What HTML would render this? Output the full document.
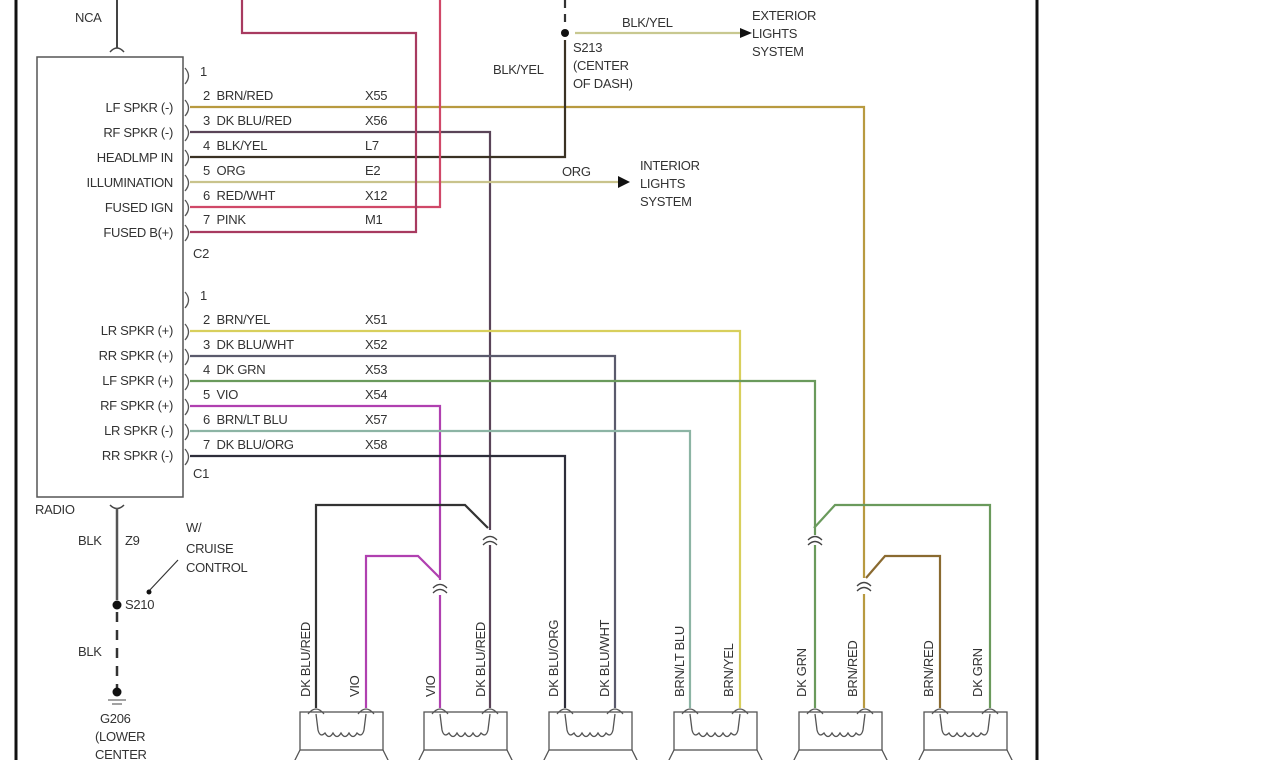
<!DOCTYPE html>
<html><head><meta charset="utf-8"><style>
html,body{margin:0;padding:0;background:#fff;}
svg{display:block;}
text{font-family:"Liberation Sans",sans-serif;font-size:13px;fill:#333;letter-spacing:-0.3px;}
</style></head><body>
<svg width="1278" height="760" viewBox="0 0 1278 760" xmlns="http://www.w3.org/2000/svg">
<rect width="1278" height="760" fill="#fff"/>
<line x1="16" y1="0" x2="16" y2="760" stroke="#111" stroke-width="3"/>
<line x1="1037" y1="0" x2="1037" y2="760" stroke="#111" stroke-width="3"/>
<rect x="37" y="57" width="146" height="440" fill="none" stroke="#555" stroke-width="1.5"/>
<line x1="117" y1="0" x2="117" y2="48" stroke="#444" stroke-width="2"/>
<path d="M110 52 Q117 44 124 52" fill="none" stroke="#444" stroke-width="1.5"/>
<text x="75" y="22">NCA</text>
<g fill="none" stroke="#555" stroke-width="1.3">
<path d="M185 68 Q192 76 185 84"/><path d="M185 100 Q192 108 185 116"/><path d="M185 125 Q192 133 185 141"/><path d="M185 150 Q192 158 185 166"/><path d="M185 175 Q192 183 185 191"/><path d="M185 200 Q192 208 185 216"/><path d="M185 225 Q192 233 185 241"/>
<path d="M185 292 Q192 300 185 308"/><path d="M185 324 Q192 332 185 340"/><path d="M185 349 Q192 357 185 365"/><path d="M185 374 Q192 382 185 390"/><path d="M185 399 Q192 407 185 415"/><path d="M185 424 Q192 432 185 440"/><path d="M185 449 Q192 457 185 465"/>
</g>
<g fill="none" stroke-width="2.2">
<polyline points="190,107 864,107 864,578" stroke="#b89a40"/>
<polyline points="190,132 490,132 490,530" stroke="#5a4458"/>
<polyline points="190,157 565,157 565,40" stroke="#3a3224"/>
<line x1="565" y1="0" x2="565" y2="22" stroke="#333" stroke-dasharray="8,6"/>
<polyline points="190,182 622,182" stroke="#c9c38c"/>
<polyline points="190,207 440,207 440,0" stroke="#d04868"/>
<polyline points="190,232 416,232 416,33 242,33 242,0" stroke="#a83a60"/>
<line x1="575" y1="33" x2="740" y2="33" stroke="#c8c890"/>
<polyline points="190,331 740,331 740,708" stroke="#d8cf5c"/>
<polyline points="190,356 615,356 615,708" stroke="#5a5a6c"/>
<polyline points="190,381 815,381 815,535" stroke="#6a9a5c"/>
<polyline points="190,406 440,406 440,580" stroke="#b040b0"/>
<polyline points="190,431 690,431 690,708" stroke="#8cb4a4"/>
<polyline points="190,456 565,456 565,708" stroke="#2e2e3a"/>
<polyline points="316,708 316,505 465,505 488,528" stroke="#333"/>
<polyline points="490,545 490,708" stroke="#5a4458"/>
<polyline points="366,708 366,556 418,556 440,578" stroke="#b040b0"/>
<polyline points="440,595 440,708" stroke="#b040b0"/>
<polyline points="990,708 990,505 835,505 814,528" stroke="#6a9a5c"/>
<polyline points="815,545 815,708" stroke="#6a9a5c"/>
<polyline points="940,708 940,556 885,556 866,578" stroke="#8a6a30"/>
<polyline points="864,594 864,708" stroke="#b89a40"/>
</g>
<g fill="none" stroke="#444" stroke-width="1.3">
<path d="M483 540 Q490 533 497 540"/><path d="M483 545 Q490 538 497 545"/>
<path d="M433 588 Q440 581 447 588"/><path d="M433 593 Q440 586 447 593"/>
<path d="M808 540 Q815 533 822 540"/><path d="M808 545 Q815 538 822 545"/>
<path d="M857 586 Q864 579 871 586"/><path d="M857 591 Q864 584 871 591"/>
</g>
<polygon points="740,28 752,33 740,38" fill="#111"/>
<polygon points="618,176 630,182 618,188" fill="#111"/>
<circle cx="565" cy="33" r="4" fill="#111"/>
<text x="200" y="76">1</text>
<text x="203" y="100">2&#160; BRN/RED</text><text x="365" y="100">X55</text>
<text x="203" y="125">3&#160; DK BLU/RED</text><text x="365" y="125">X56</text>
<text x="203" y="150">4&#160; BLK/YEL</text><text x="365" y="150">L7</text>
<text x="203" y="175">5&#160; ORG</text><text x="365" y="175">E2</text>
<text x="203" y="200">6&#160; RED/WHT</text><text x="365" y="200">X12</text>
<text x="203" y="224">7&#160; PINK</text><text x="365" y="224">M1</text>
<text x="193" y="258">C2</text>
<g text-anchor="end">
<text x="173" y="112">LF SPKR (-)</text><text x="173" y="137">RF SPKR (-)</text><text x="173" y="162">HEADLMP IN</text><text x="173" y="187">ILLUMINATION</text><text x="173" y="212">FUSED IGN</text><text x="173" y="237">FUSED B(+)</text>
<text x="173" y="335">LR SPKR (+)</text><text x="173" y="360">RR SPKR (+)</text><text x="173" y="385">LF SPKR (+)</text><text x="173" y="410">RF SPKR (+)</text><text x="173" y="435">LR SPKR (-)</text><text x="173" y="460">RR SPKR (-)</text>
</g>
<text x="200" y="300">1</text>
<text x="203" y="324">2&#160; BRN/YEL</text><text x="365" y="324">X51</text>
<text x="203" y="349">3&#160; DK BLU/WHT</text><text x="365" y="349">X52</text>
<text x="203" y="374">4&#160; DK GRN</text><text x="365" y="374">X53</text>
<text x="203" y="399">5&#160; VIO</text><text x="365" y="399">X54</text>
<text x="203" y="424">6&#160; BRN/LT BLU</text><text x="365" y="424">X57</text>
<text x="203" y="449">7&#160; DK BLU/ORG</text><text x="365" y="449">X58</text>
<text x="193" y="478">C1</text>
<text x="622" y="27">BLK/YEL</text>
<text x="752" y="20">EXTERIOR</text><text x="752" y="38">LIGHTS</text><text x="752" y="56">SYSTEM</text>
<text x="573" y="52">S213</text><text x="573" y="70">(CENTER</text><text x="573" y="88">OF DASH)</text>
<text x="493" y="74">BLK/YEL</text>
<text x="562" y="176">ORG</text>
<text x="640" y="170">INTERIOR</text><text x="640" y="188">LIGHTS</text><text x="640" y="206">SYSTEM</text>
<path d="M110 505 Q117 512 124 505" fill="none" stroke="#444" stroke-width="1.5"/>
<line x1="117" y1="508" x2="117" y2="600" stroke="#555" stroke-width="2.5"/>
<line x1="117" y1="612" x2="117" y2="690" stroke="#333" stroke-width="2.5" stroke-dasharray="10,8"/>
<circle cx="117" cy="605" r="4.5" fill="#111"/>
<circle cx="117" cy="692" r="4.5" fill="#111"/>
<line x1="108" y1="700" x2="126" y2="700" stroke="#444"/><line x1="112" y1="704" x2="122" y2="704" stroke="#444"/>
<line x1="148" y1="592" x2="178" y2="560" stroke="#333" stroke-width="1.2"/>
<circle cx="149" cy="592" r="2.5" fill="#111"/>
<text x="35" y="514">RADIO</text>
<text x="78" y="545">BLK</text><text x="125" y="545">Z9</text>
<text x="186" y="532">W/</text><text x="186" y="553">CRUISE</text><text x="186" y="572">CONTROL</text>
<text x="125" y="609">S210</text>
<text x="78" y="656">BLK</text>
<text x="100" y="723">G206</text><text x="95" y="741">(LOWER</text><text x="95" y="759">CENTER</text>
<g>
<text transform="translate(310,697) rotate(-90)">DK BLU/RED</text>
<text transform="translate(359,697) rotate(-90)">VIO</text>
<text transform="translate(435,697) rotate(-90)">VIO</text>
<text transform="translate(485,697) rotate(-90)">DK BLU/RED</text>
<text transform="translate(558,697) rotate(-90)">DK BLU/ORG</text>
<text transform="translate(609,697) rotate(-90)">DK BLU/WHT</text>
<text transform="translate(684,697) rotate(-90)">BRN/LT BLU</text>
<text transform="translate(733,697) rotate(-90)">BRN/YEL</text>
<text transform="translate(806,697) rotate(-90)">DK GRN</text>
<text transform="translate(857,697) rotate(-90)">BRN/RED</text>
<text transform="translate(933,697) rotate(-90)">BRN/RED</text>
<text transform="translate(982,697) rotate(-90)">DK GRN</text>
</g>
<defs>
<g id="spk" fill="none" stroke="#555" stroke-width="1.3">
<rect x="-16" y="12" width="83" height="38"/>
<path d="M-16 50 L-22 62 M67 50 L73 62"/>
<path d="M-8 14 Q0 4 8 14"/><path d="M42 14 Q50 4 58 14"/>
<path d="M0 14 L2 30 Q4 38 9 33 Q13 40 17 33 Q21 40 25 33 Q29 40 33 33 Q37 40 41 33 Q46 38 48 30 L50 14"/>
</g>
</defs>
<use href="#spk" x="316" y="700"/>
<use href="#spk" x="440" y="700"/>
<use href="#spk" x="565" y="700"/>
<use href="#spk" x="690" y="700"/>
<use href="#spk" x="815" y="700"/>
<use href="#spk" x="940" y="700"/>
</svg>
</body></html>
